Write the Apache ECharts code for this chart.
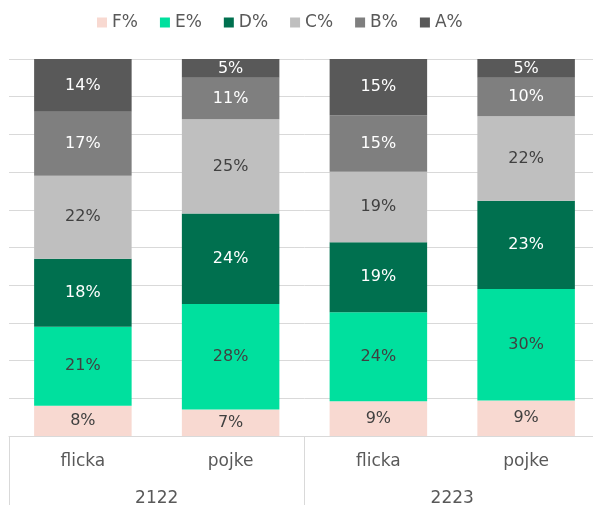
<!DOCTYPE html>
<html>
<head>
<meta charset="utf-8">
<script src="https://cdn.jsdelivr.net/npm/echarts@6/dist/echarts.min.js"></script>
<style>
  html, body { margin: 0; padding: 0; background: #fff; overflow: hidden; }
  #main { width: 601px; height: 505px; }
</style>
</head>
<body>
<div id="main"></div>
<script>
// kategorier
const groups = ['flicka', 'pojke', 'flicka', 'pojke'];
const years = ['2122', '2223'];

// andelar (procent), uppskattade ur bilden
const fData = [8, 7, 9.2, 9.4];
const eData = [21, 28, 23.6, 29.6];
const dData = [18, 24, 18.6, 23.4];
const cData = [22, 25, 18.7, 22.4];
const bData = [17, 11, 15.0, 10.2];
const aData = [14, 5, 14.9, 5.0];

const seriesNames = ['F%', 'E%', 'D%', 'C%', 'B%', 'A%'];
const seriesValues = [fData, eData, dData, cData, bData, aData];
const colors = ['#F8D9D1', '#00E09E', '#00704F', '#BFBFBF', '#7F7F7F', '#595959'];
const labelColors = ['#404040', '#404040', '#ffffff', '#404040', '#ffffff', '#ffffff'];

const fontFamily = 'DejaVu Sans, sans-serif';

let chart = echarts.init(document.getElementById('main'));

let series = seriesNames.map((name, i) => ({
  name: name,
  type: 'bar',
  stack: 'total',
  xAxisIndex: 0,
  barCategoryGap: '34%',
  data: seriesValues[i],
  itemStyle: { color: colors[i] },
  label: {
    show: true,
    position: 'inside',
    color: labelColors[i],
    fontSize: 16,
    fontFamily: fontFamily,
    formatter: p => Math.round(p.value) + '%'
  }
}));

let option = {
  backgroundColor: '#ffffff',
  animation: false,
  color: colors,
  legend: {
    top: 9,
    left: 92,
    icon: 'rect',
    itemWidth: 10,
    itemHeight: 10,
    itemGap: 22,
    textStyle: { color: '#595959', fontSize: 17, fontFamily: fontFamily },
    data: seriesNames
  },
  grid: {
    left: 9,
    top: 59,
    width: 591,
    height: 377,
    outerBoundsMode: 'none'
  },
  xAxis: [{
    type: 'category',
    data: groups,
    position: 'bottom',
    axisLine: { show: false },
    axisTick: { show: false },
    axisLabel: { color: '#595959', fontSize: 17, fontFamily: fontFamily, margin: 17 }
  }, {
    type: 'category',
    data: years,
    position: 'bottom',
    axisLine: { show: true, lineStyle: { color: '#d9d9d9', width: 1 } },
    axisTick: { show: true, length: 75, lineStyle: { color: '#d9d9d9', width: 1 } },
    axisLabel: { color: '#595959', fontSize: 17, fontFamily: fontFamily, margin: 54 },
    splitLine: { show: false }
  }],
  yAxis: {
    type: 'value',
    min: 0,
    max: 100,
    interval: 10,
    axisLine: { show: false },
    axisTick: { show: false },
    axisLabel: { show: false },
    splitLine: { lineStyle: { color: '#d9d9d9', width: 1 } }
  },
  series: series
};

chart.setOption(option);
</script>
</body>
</html>
